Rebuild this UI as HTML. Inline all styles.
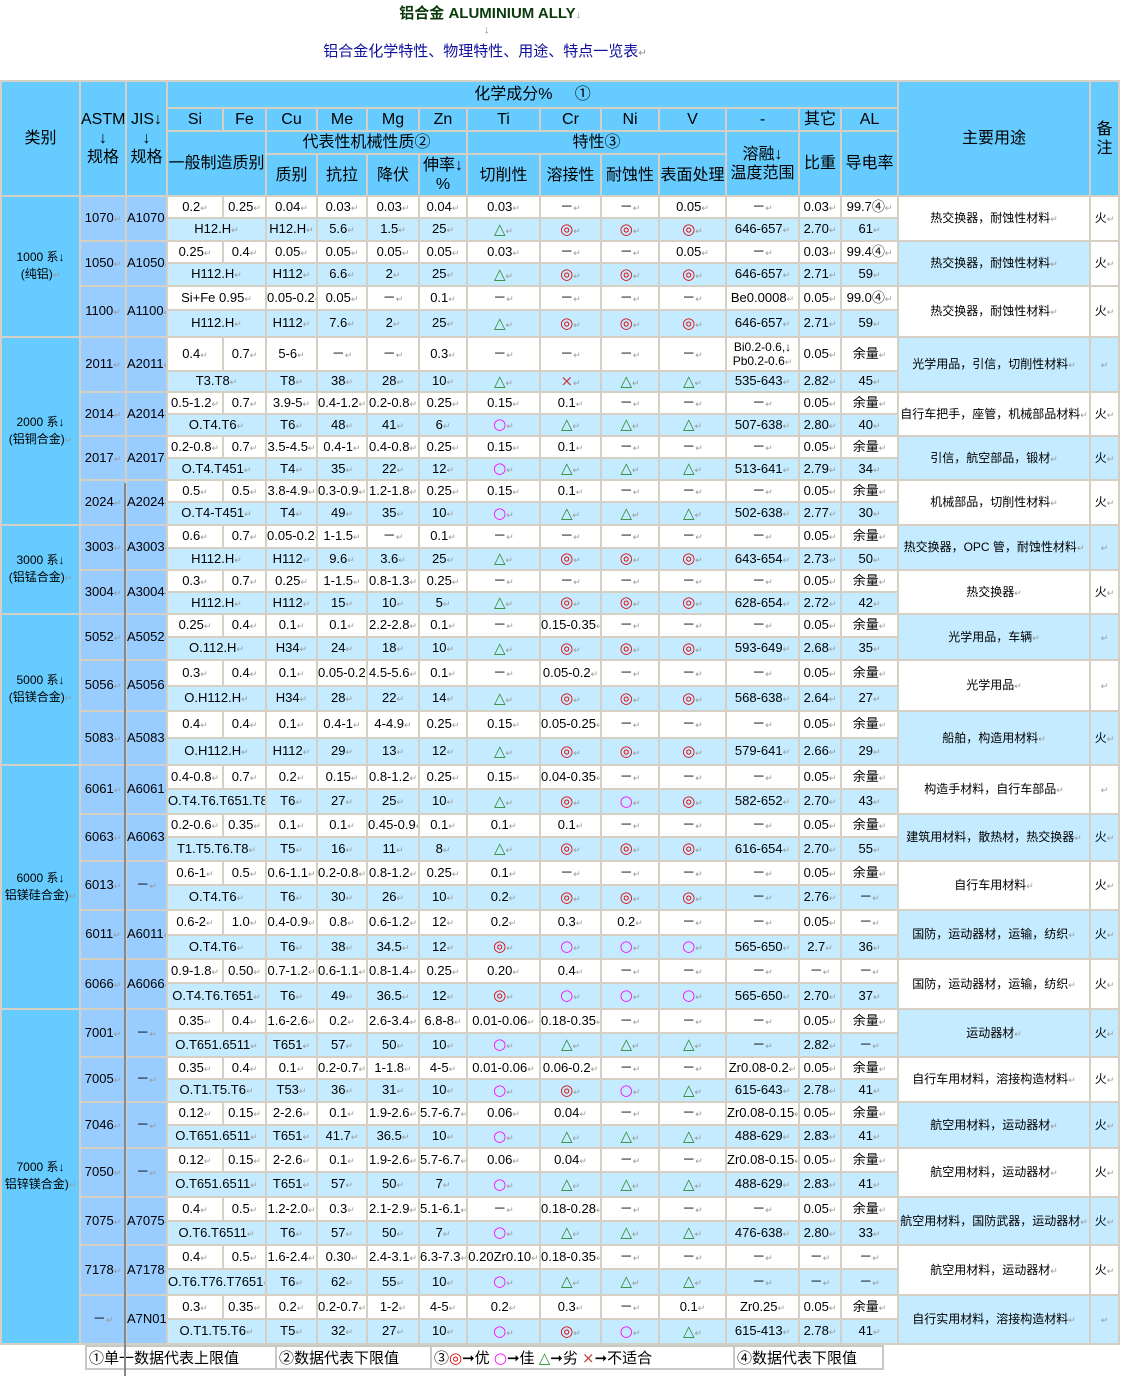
<!DOCTYPE html>
<html><head><meta charset="utf-8"><style>
body{margin:0;width:1124px;height:1376px;background:#fff;font-family:"Liberation Sans","Noto Sans CJK SC",sans-serif;position:relative;overflow:hidden}
.t1{position:absolute;left:0;width:980px;top:2px;text-align:center;font-size:15px;font-weight:bold;color:#0a3a0a}
.ar{position:absolute;left:484px;top:24px;color:#888;font-size:11px}
.t2{position:absolute;left:0;width:970px;top:40px;text-align:center;font-size:15px;color:#1010a0}
table.m{position:absolute;left:0;top:80px;border-collapse:collapse;table-layout:fixed;width:1118px}
.m td{border:2px solid #d6d0c4;padding:0;text-align:center;font-size:13px;line-height:14px;overflow:hidden;white-space:nowrap;color:#000}
.m td.h{background:#66ccff;font-size:16px;line-height:19px}
.m td.c{background:#66ccff;font-size:12px;line-height:17px;white-space:normal}
.m td.a{background:#99ccff}
.m tr.r1 td{background:#fff}
.m tr.r2 td{background:#c4ebff}
.m tr td.w{background:#fff;font-size:12px}
.m tr td.b{background:#c4ebff;font-size:12px}
.m tr td.a{background:#99ccff}
.m tr td.c{background:#66ccff}
.m td:not(.h)::after{content:"↵";color:#999;font-size:9px}
i{font-style:normal;font-size:15px;line-height:14px;font-family:"DejaVu Sans",sans-serif}
i.e{color:#e00000}i.o{color:#ff00ff}i.t{color:#2a8a2a;font-weight:bold}i.x{color:#c04040}
.vl{position:absolute;left:124px;top:483px;width:2px;height:893px;background:#888}
table.f{position:absolute;left:85px;top:1345px;border-collapse:collapse;table-layout:fixed;width:797px}
.f td{border:2px solid #c8c8c8;height:20px;padding:0 2px;font-size:15px;white-space:nowrap;overflow:hidden}
</style></head><body>
<div class="t1">铝合金 ALUMINIUM ALLY<span style="color:#888;font-size:10px;font-weight:normal">↓</span></div>
<div class="ar">↓</div>
<div class="t2">铝合金化学特性、物理特性、用途、特点一览表<span style="color:#888;font-size:10px">↵</span></div>
<table class="m">
<colgroup><col style="width:79px"><col style="width:46px"><col style="width:41px"><col style="width:56px"><col style="width:43px"><col style="width:51px"><col style="width:50px"><col style="width:52px"><col style="width:48px"><col style="width:73px"><col style="width:61px"><col style="width:58px"><col style="width:67px"><col style="width:73px"><col style="width:42px"><col style="width:57px"><col style="width:192px"><col style="width:29px"></colgroup>
<tr style="height:27px"><td class="h" rowspan="4">类别</td><td class="h" rowspan="4">ASTM<br>↓<br>规格</td><td class="h" rowspan="4">JIS↓<br>↓<br>规格</td><td class="h" colspan="13">化学成分% &nbsp; &nbsp; ①</td><td class="h" rowspan="4">主要用途</td><td class="h" rowspan="4" style="white-space:normal">备注</td></tr>
<tr style="height:23px"><td class="h">Si</td><td class="h">Fe</td><td class="h">Cu</td><td class="h">Me</td><td class="h">Mg</td><td class="h">Zn</td><td class="h">Ti</td><td class="h">Cr</td><td class="h">Ni</td><td class="h">V</td><td class="h">-</td><td class="h">其它</td><td class="h">AL</td></tr>
<tr style="height:23px"><td class="h" colspan="2" rowspan="2">一般制造质别</td><td class="h" colspan="4">代表性机械性质②</td><td class="h" colspan="4">特性③</td><td class="h" rowspan="2">溶融↓<br>温度范围</td><td class="h" rowspan="2">比重</td><td class="h" rowspan="2">导电率</td></tr>
<tr style="height:42px"><td class="h">质别</td><td class="h">抗拉</td><td class="h">降伏</td><td class="h">伸率↓<br>%</td><td class="h">切削性</td><td class="h">溶接性</td><td class="h">耐蚀性</td><td class="h">表面处理</td></tr>

<tr class="r1" style="height:22px"><td class="c" rowspan="6">1000 系↓<br>(纯铝)</td><td class="a" rowspan="2">1070</td><td class="a" rowspan="2">A1070</td><td>0.2</td><td>0.25</td><td>0.04</td><td>0.03</td><td>0.03</td><td>0.04</td><td>0.03</td><td>－</td><td>－</td><td>0.05</td><td>－</td><td>0.03</td><td>99.7④</td><td class="w" rowspan="2">热交换器，耐蚀性材料</td><td class="w" rowspan="2">火</td></tr>
<tr class="r2" style="height:23px"><td colspan="2">H12.H</td><td>H12.H</td><td>5.6</td><td>1.5</td><td>25</td><td><i class="t">△</i></td><td><i class="e">◎</i></td><td><i class="e">◎</i></td><td><i class="e">◎</i></td><td>646-657</td><td>2.70</td><td>61</td></tr>
<tr class="r1" style="height:22px"><td class="a" rowspan="2">1050</td><td class="a" rowspan="2">A1050</td><td>0.25</td><td>0.4</td><td>0.05</td><td>0.05</td><td>0.05</td><td>0.05</td><td>0.03</td><td>－</td><td>－</td><td>0.05</td><td>－</td><td>0.03</td><td>99.4④</td><td class="b" rowspan="2">热交换器，耐蚀性材料</td><td class="w" rowspan="2">火</td></tr>
<tr class="r2" style="height:23px"><td colspan="2">H112.H</td><td>H112</td><td>6.6</td><td>2</td><td>25</td><td><i class="t">△</i></td><td><i class="e">◎</i></td><td><i class="e">◎</i></td><td><i class="e">◎</i></td><td>646-657</td><td>2.71</td><td>59</td></tr>
<tr class="r1" style="height:24px"><td class="a" rowspan="2">1100</td><td class="a" rowspan="2">A1100</td><td colspan="2">Si+Fe 0.95</td><td>0.05-0.2</td><td>0.05</td><td>－</td><td>0.1</td><td>－</td><td>－</td><td>－</td><td>－</td><td>Be0.0008</td><td>0.05</td><td>99.0④</td><td class="w" rowspan="2">热交换器，耐蚀性材料</td><td class="w" rowspan="2">火</td></tr>
<tr class="r2" style="height:27px"><td colspan="2">H112.H</td><td>H112</td><td>7.6</td><td>2</td><td>25</td><td><i class="t">△</i></td><td><i class="e">◎</i></td><td><i class="e">◎</i></td><td><i class="e">◎</i></td><td>646-657</td><td>2.71</td><td>59</td></tr>

<tr class="r1" style="height:34px"><td class="c" rowspan="8">2000 系↓<br>(铝铜合金)</td><td class="a" rowspan="2">2011</td><td class="a" rowspan="2">A2011</td><td>0.4</td><td>0.7</td><td>5-6</td><td>－</td><td>－</td><td>0.3</td><td>－</td><td>－</td><td>－</td><td>－</td><td style="font-size:12px">Bi0.2-0.6,↓<br>Pb0.2-0.6</td><td>0.05</td><td>余量</td><td class="b" rowspan="2">光学用品，引信，切削性材料</td><td class="b" rowspan="2"></td></tr>
<tr class="r2" style="height:21px"><td colspan="2">T3.T8</td><td>T8</td><td>38</td><td>28</td><td>10</td><td><i class="t">△</i></td><td><i class="x">×</i></td><td><i class="t">△</i></td><td><i class="t">△</i></td><td>535-643</td><td>2.82</td><td>45</td></tr>
<tr class="r1" style="height:22px"><td class="a" rowspan="2">2014</td><td class="a" rowspan="2">A2014</td><td>0.5-1.2</td><td>0.7</td><td>3.9-5</td><td>0.4-1.2</td><td>0.2-0.8</td><td>0.25</td><td>0.15</td><td>0.1</td><td>－</td><td>－</td><td>－</td><td>0.05</td><td>余量</td><td class="w" rowspan="2">自行车把手，座管，机械部品材料</td><td class="w" rowspan="2">火</td></tr>
<tr class="r2" style="height:22px"><td colspan="2">O.T4.T6</td><td>T6</td><td>48</td><td>41</td><td>6</td><td><i class="o">○</i></td><td><i class="t">△</i></td><td><i class="t">△</i></td><td><i class="t">△</i></td><td>507-638</td><td>2.80</td><td>40</td></tr>
<tr class="r1" style="height:22px"><td class="a" rowspan="2">2017</td><td class="a" rowspan="2">A2017</td><td>0.2-0.8</td><td>0.7</td><td>3.5-4.5</td><td>0.4-1</td><td>0.4-0.8</td><td>0.25</td><td>0.15</td><td>0.1</td><td>－</td><td>－</td><td>－</td><td>0.05</td><td>余量</td><td class="b" rowspan="2">引信，航空部品，锻材</td><td class="b" rowspan="2">火</td></tr>
<tr class="r2" style="height:22px"><td colspan="2">O.T4.T451</td><td>T4</td><td>35</td><td>22</td><td>12</td><td><i class="o">○</i></td><td><i class="t">△</i></td><td><i class="t">△</i></td><td><i class="t">△</i></td><td>513-641</td><td>2.79</td><td>34</td></tr>
<tr class="r1" style="height:22px"><td class="a" rowspan="2">2024</td><td class="a" rowspan="2">A2024</td><td>0.5</td><td>0.5</td><td>3.8-4.9</td><td>0.3-0.9</td><td>1.2-1.8</td><td>0.25</td><td>0.15</td><td>0.1</td><td>－</td><td>－</td><td>－</td><td>0.05</td><td>余量</td><td class="w" rowspan="2">机械部品，切削性材料</td><td class="w" rowspan="2">火</td></tr>
<tr class="r2" style="height:23px"><td colspan="2">O.T4-T451</td><td>T4</td><td>49</td><td>35</td><td>10</td><td><i class="o">○</i></td><td><i class="t">△</i></td><td><i class="t">△</i></td><td><i class="t">△</i></td><td>502-638</td><td>2.77</td><td>30</td></tr>

<tr class="r1" style="height:23px"><td class="c" rowspan="4">3000 系↓<br>(铝锰合金)</td><td class="a" rowspan="2">3003</td><td class="a" rowspan="2">A3003</td><td>0.6</td><td>0.7</td><td>0.05-0.2</td><td>1-1.5</td><td>－</td><td>0.1</td><td>－</td><td>－</td><td>－</td><td>－</td><td>－</td><td>0.05</td><td>余量</td><td class="b" rowspan="2">热交换器，OPC 管，耐蚀性材料</td><td class="b" rowspan="2"></td></tr>
<tr class="r2" style="height:22px"><td colspan="2">H112.H</td><td>H112</td><td>9.6</td><td>3.6</td><td>25</td><td><i class="t">△</i></td><td><i class="e">◎</i></td><td><i class="e">◎</i></td><td><i class="e">◎</i></td><td>643-654</td><td>2.73</td><td>50</td></tr>
<tr class="r1" style="height:22px"><td class="a" rowspan="2">3004</td><td class="a" rowspan="2">A3004</td><td>0.3</td><td>0.7</td><td>0.25</td><td>1-1.5</td><td>0.8-1.3</td><td>0.25</td><td>－</td><td>－</td><td>－</td><td>－</td><td>－</td><td>0.05</td><td>余量</td><td class="w" rowspan="2">热交换器</td><td class="w" rowspan="2">火</td></tr>
<tr class="r2" style="height:22px"><td colspan="2">H112.H</td><td>H112</td><td>15</td><td>10</td><td>5</td><td><i class="t">△</i></td><td><i class="e">◎</i></td><td><i class="e">◎</i></td><td><i class="e">◎</i></td><td>628-654</td><td>2.72</td><td>42</td></tr>

<tr class="r1" style="height:23px"><td class="c" rowspan="6">5000 系↓<br>(铝镁合金)</td><td class="a" rowspan="2">5052</td><td class="a" rowspan="2">A5052</td><td>0.25</td><td>0.4</td><td>0.1</td><td>0.1</td><td>2.2-2.8</td><td>0.1</td><td>－</td><td>0.15-0.35</td><td>－</td><td>－</td><td>－</td><td>0.05</td><td>余量</td><td class="b" rowspan="2">光学用品，车辆</td><td class="b" rowspan="2"></td></tr>
<tr class="r2" style="height:23px"><td colspan="2">O.112.H</td><td>H34</td><td>24</td><td>18</td><td>10</td><td><i class="t">△</i></td><td><i class="e">◎</i></td><td><i class="e">◎</i></td><td><i class="e">◎</i></td><td>593-649</td><td>2.68</td><td>35</td></tr>
<tr class="r1" style="height:26px"><td class="a" rowspan="2">5056</td><td class="a" rowspan="2">A5056</td><td>0.3</td><td>0.4</td><td>0.1</td><td>0.05-0.2</td><td>4.5-5.6</td><td>0.1</td><td>－</td><td>0.05-0.2</td><td>－</td><td>－</td><td>－</td><td>0.05</td><td>余量</td><td class="w" rowspan="2">光学用品</td><td class="w" rowspan="2"></td></tr>
<tr class="r2" style="height:25px"><td colspan="2">O.H112.H</td><td>H34</td><td>28</td><td>22</td><td>14</td><td><i class="t">△</i></td><td><i class="e">◎</i></td><td><i class="e">◎</i></td><td><i class="e">◎</i></td><td>568-638</td><td>2.64</td><td>27</td></tr>
<tr class="r1" style="height:27px"><td class="a" rowspan="2">5083</td><td class="a" rowspan="2">A5083</td><td>0.4</td><td>0.4</td><td>0.1</td><td>0.4-1</td><td>4-4.9</td><td>0.25</td><td>0.15</td><td>0.05-0.25</td><td>－</td><td>－</td><td>－</td><td>0.05</td><td>余量</td><td class="b" rowspan="2">船舶，构造用材料</td><td class="b" rowspan="2">火</td></tr>
<tr class="r2" style="height:27px"><td colspan="2">O.H112.H</td><td>H112</td><td>29</td><td>13</td><td>12</td><td><i class="t">△</i></td><td><i class="e">◎</i></td><td><i class="e">◎</i></td><td><i class="e">◎</i></td><td>579-641</td><td>2.66</td><td>29</td></tr>

<tr class="r1" style="height:24px"><td class="c" rowspan="10">6000 系↓<br>铝镁硅合金)</td><td class="a" rowspan="2">6061</td><td class="a" rowspan="2">A6061</td><td>0.4-0.8</td><td>0.7</td><td>0.2</td><td>0.15</td><td>0.8-1.2</td><td>0.25</td><td>0.15</td><td>0.04-0.35</td><td>－</td><td>－</td><td>－</td><td>0.05</td><td>余量</td><td class="w" rowspan="2">构造手材料，自行车部品</td><td class="w" rowspan="2"></td></tr>
<tr class="r2" style="height:25px"><td colspan="2">O.T4.T6.T651.T8</td><td>T6</td><td>27</td><td>25</td><td>10</td><td><i class="t">△</i></td><td><i class="e">◎</i></td><td><i class="o">○</i></td><td><i class="e">◎</i></td><td>582-652</td><td>2.70</td><td>43</td></tr>
<tr class="r1" style="height:23px"><td class="a" rowspan="2">6063</td><td class="a" rowspan="2">A6063</td><td>0.2-0.6</td><td>0.35</td><td>0.1</td><td>0.1</td><td>0.45-0.9</td><td>0.1</td><td>0.1</td><td>0.1</td><td>－</td><td>－</td><td>－</td><td>0.05</td><td>余量</td><td class="b" rowspan="2">建筑用材料，散热材，热交换器</td><td class="b" rowspan="2">火</td></tr>
<tr class="r2" style="height:24px"><td colspan="2">T1.T5.T6.T8</td><td>T5</td><td>16</td><td>11</td><td>8</td><td><i class="t">△</i></td><td><i class="e">◎</i></td><td><i class="e">◎</i></td><td><i class="e">◎</i></td><td>616-654</td><td>2.70</td><td>55</td></tr>
<tr class="r1" style="height:24px"><td class="a" rowspan="2">6013</td><td class="a" rowspan="2">－</td><td>0.6-1</td><td>0.5</td><td>0.6-1.1</td><td>0.2-0.8</td><td>0.8-1.2</td><td>0.25</td><td>0.1</td><td>－</td><td>－</td><td>－</td><td>－</td><td>0.05</td><td>余量</td><td class="w" rowspan="2">自行车用材料</td><td class="w" rowspan="2">火</td></tr>
<tr class="r2" style="height:25px"><td colspan="2">O.T4.T6</td><td>T6</td><td>30</td><td>26</td><td>10</td><td>0.2</td><td><i class="e">◎</i></td><td><i class="e">◎</i></td><td><i class="e">◎</i></td><td>－</td><td>2.76</td><td>－</td></tr>
<tr class="r1" style="height:25px"><td class="a" rowspan="2">6011</td><td class="a" rowspan="2">A6011</td><td>0.6-2</td><td>1.0</td><td>0.4-0.9</td><td>0.8</td><td>0.6-1.2</td><td>12</td><td>0.2</td><td>0.3</td><td>0.2</td><td>－</td><td>－</td><td>0.05</td><td>－</td><td class="b" rowspan="2">国防，运动器材，运输，纺织</td><td class="b" rowspan="2">火</td></tr>
<tr class="r2" style="height:24px"><td colspan="2">O.T4.T6</td><td>T6</td><td>38</td><td>34.5</td><td>12</td><td><i class="e">◎</i></td><td><i class="o">○</i></td><td><i class="o">○</i></td><td><i class="o">○</i></td><td>565-650</td><td>2.7</td><td>36</td></tr>
<tr class="r1" style="height:24px"><td class="a" rowspan="2">6066</td><td class="a" rowspan="2">A6066</td><td>0.9-1.8</td><td>0.50</td><td>0.7-1.2</td><td>0.6-1.1</td><td>0.8-1.4</td><td>0.25</td><td>0.20</td><td>0.4</td><td>－</td><td>－</td><td>－</td><td>－</td><td>－</td><td class="w" rowspan="2">国防，运动器材，运输，纺织</td><td class="w" rowspan="2">火</td></tr>
<tr class="r2" style="height:26px"><td colspan="2">O.T4.T6.T651</td><td>T6</td><td>49</td><td>36.5</td><td>12</td><td><i class="e">◎</i></td><td><i class="o">○</i></td><td><i class="o">○</i></td><td><i class="o">○</i></td><td>565-650</td><td>2.70</td><td>37</td></tr>

<tr class="r1" style="height:24px"><td class="c" rowspan="14">7000 系↓<br>铝锌镁合金)</td><td class="a" rowspan="2">7001</td><td class="a" rowspan="2">－</td><td>0.35</td><td>0.4</td><td>1.6-2.6</td><td>0.2</td><td>2.6-3.4</td><td>6.8-8</td><td>0.01-0.06</td><td>0.18-0.35</td><td>－</td><td>－</td><td>－</td><td>0.05</td><td>余量</td><td class="b" rowspan="2">运动器材</td><td class="b" rowspan="2">火</td></tr>
<tr class="r2" style="height:24px"><td colspan="2">O.T651.6511</td><td>T651</td><td>57</td><td>50</td><td>10</td><td><i class="o">○</i></td><td><i class="t">△</i></td><td><i class="t">△</i></td><td><i class="t">△</i></td><td>－</td><td>2.82</td><td>－</td></tr>
<tr class="r1" style="height:22px"><td class="a" rowspan="2">7005</td><td class="a" rowspan="2">－</td><td>0.35</td><td>0.4</td><td>0.1</td><td>0.2-0.7</td><td>1-1.8</td><td>4-5</td><td>0.01-0.06</td><td>0.06-0.2</td><td>－</td><td>－</td><td>Zr0.08-0.2</td><td>0.05</td><td>余量</td><td class="w" rowspan="2">自行车用材料，溶接构造材料</td><td class="w" rowspan="2">火</td></tr>
<tr class="r2" style="height:23px"><td colspan="2">O.T1.T5.T6</td><td>T53</td><td>36</td><td>31</td><td>10</td><td><i class="o">○</i></td><td><i class="e">◎</i></td><td><i class="o">○</i></td><td><i class="t">△</i></td><td>615-643</td><td>2.78</td><td>41</td></tr>
<tr class="r1" style="height:23px"><td class="a" rowspan="2">7046</td><td class="a" rowspan="2">－</td><td>0.12</td><td>0.15</td><td>2-2.6</td><td>0.1</td><td>1.9-2.6</td><td>5.7-6.7</td><td>0.06</td><td>0.04</td><td>－</td><td>－</td><td>Zr0.08-0.15</td><td>0.05</td><td>余量</td><td class="b" rowspan="2">航空用材料，运动器材</td><td class="b" rowspan="2">火</td></tr>
<tr class="r2" style="height:23px"><td colspan="2">O.T651.6511</td><td>T651</td><td>41.7</td><td>36.5</td><td>10</td><td><i class="o">○</i></td><td><i class="t">△</i></td><td><i class="t">△</i></td><td><i class="t">△</i></td><td>488-629</td><td>2.83</td><td>41</td></tr>
<tr class="r1" style="height:24px"><td class="a" rowspan="2">7050</td><td class="a" rowspan="2">－</td><td>0.12</td><td>0.15</td><td>2-2.6</td><td>0.1</td><td>1.9-2.6</td><td>5.7-6.7</td><td>0.06</td><td>0.04</td><td>－</td><td>－</td><td>Zr0.08-0.15</td><td>0.05</td><td>余量</td><td class="w" rowspan="2">航空用材料，运动器材</td><td class="w" rowspan="2">火</td></tr>
<tr class="r2" style="height:25px"><td colspan="2">O.T651.6511</td><td>T651</td><td>57</td><td>50</td><td>7</td><td><i class="o">○</i></td><td><i class="t">△</i></td><td><i class="t">△</i></td><td><i class="t">△</i></td><td>488-629</td><td>2.83</td><td>41</td></tr>
<tr class="r1" style="height:24px"><td class="a" rowspan="2">7075</td><td class="a" rowspan="2">A7075</td><td>0.4</td><td>0.5</td><td>1.2-2.0</td><td>0.3</td><td>2.1-2.9</td><td>5.1-6.1</td><td>－</td><td>0.18-0.28</td><td>－</td><td>－</td><td>－</td><td>0.05</td><td>余量</td><td class="b" rowspan="2">航空用材料，国防武器，运动器材</td><td class="b" rowspan="2">火</td></tr>
<tr class="r2" style="height:24px"><td colspan="2">O.T6.T6511</td><td>T6</td><td>57</td><td>50</td><td>7</td><td><i class="o">○</i></td><td><i class="t">△</i></td><td><i class="t">△</i></td><td><i class="t">△</i></td><td>476-638</td><td>2.80</td><td>33</td></tr>
<tr class="r1" style="height:24px"><td class="a" rowspan="2">7178</td><td class="a" rowspan="2">A7178</td><td>0.4</td><td>0.5</td><td>1.6-2.4</td><td>0.30</td><td>2.4-3.1</td><td>6.3-7.3</td><td>0.20Zr0.10</td><td>0.18-0.35</td><td>－</td><td>－</td><td>－</td><td>－</td><td>－</td><td class="w" rowspan="2">航空用材料，运动器材</td><td class="w" rowspan="2">火</td></tr>
<tr class="r2" style="height:26px"><td colspan="2">O.T6.T76.T7651</td><td>T6</td><td>62</td><td>55</td><td>10</td><td><i class="o">○</i></td><td><i class="t">△</i></td><td><i class="t">△</i></td><td><i class="t">△</i></td><td>－</td><td>－</td><td>－</td></tr>
<tr class="r1" style="height:24px"><td class="a" rowspan="2">－</td><td class="a" rowspan="2">A7N01</td><td>0.3</td><td>0.35</td><td>0.2</td><td>0.2-0.7</td><td>1-2</td><td>4-5</td><td>0.2</td><td>0.3</td><td>－</td><td>0.1</td><td>Zr0.25</td><td>0.05</td><td>余量</td><td class="b" rowspan="2">自行实用材料，溶接构造材料</td><td class="b" rowspan="2"></td></tr>
<tr class="r2" style="height:25px"><td colspan="2">O.T1.T5.T6</td><td>T5</td><td>32</td><td>27</td><td>10</td><td><i class="o">○</i></td><td><i class="e">◎</i></td><td><i class="o">○</i></td><td><i class="t">△</i></td><td>615-413</td><td>2.78</td><td>41</td></tr>
</table>
<table class="f"><colgroup><col style="width:190px"><col style="width:155px"><col style="width:303px"><col style="width:149px"></colgroup>
<tr><td>①单一数据代表上限值</td><td>②数据代表下限值</td><td>③<i class="e">◎</i>➞优 <i class="o">○</i>➞佳 <i class="t" style="font-weight:normal">△</i>➞劣 <i class="x">×</i>➞不适合</td><td>④数据代表下限值</td></tr></table>
<div class="vl"></div>
</body></html>
